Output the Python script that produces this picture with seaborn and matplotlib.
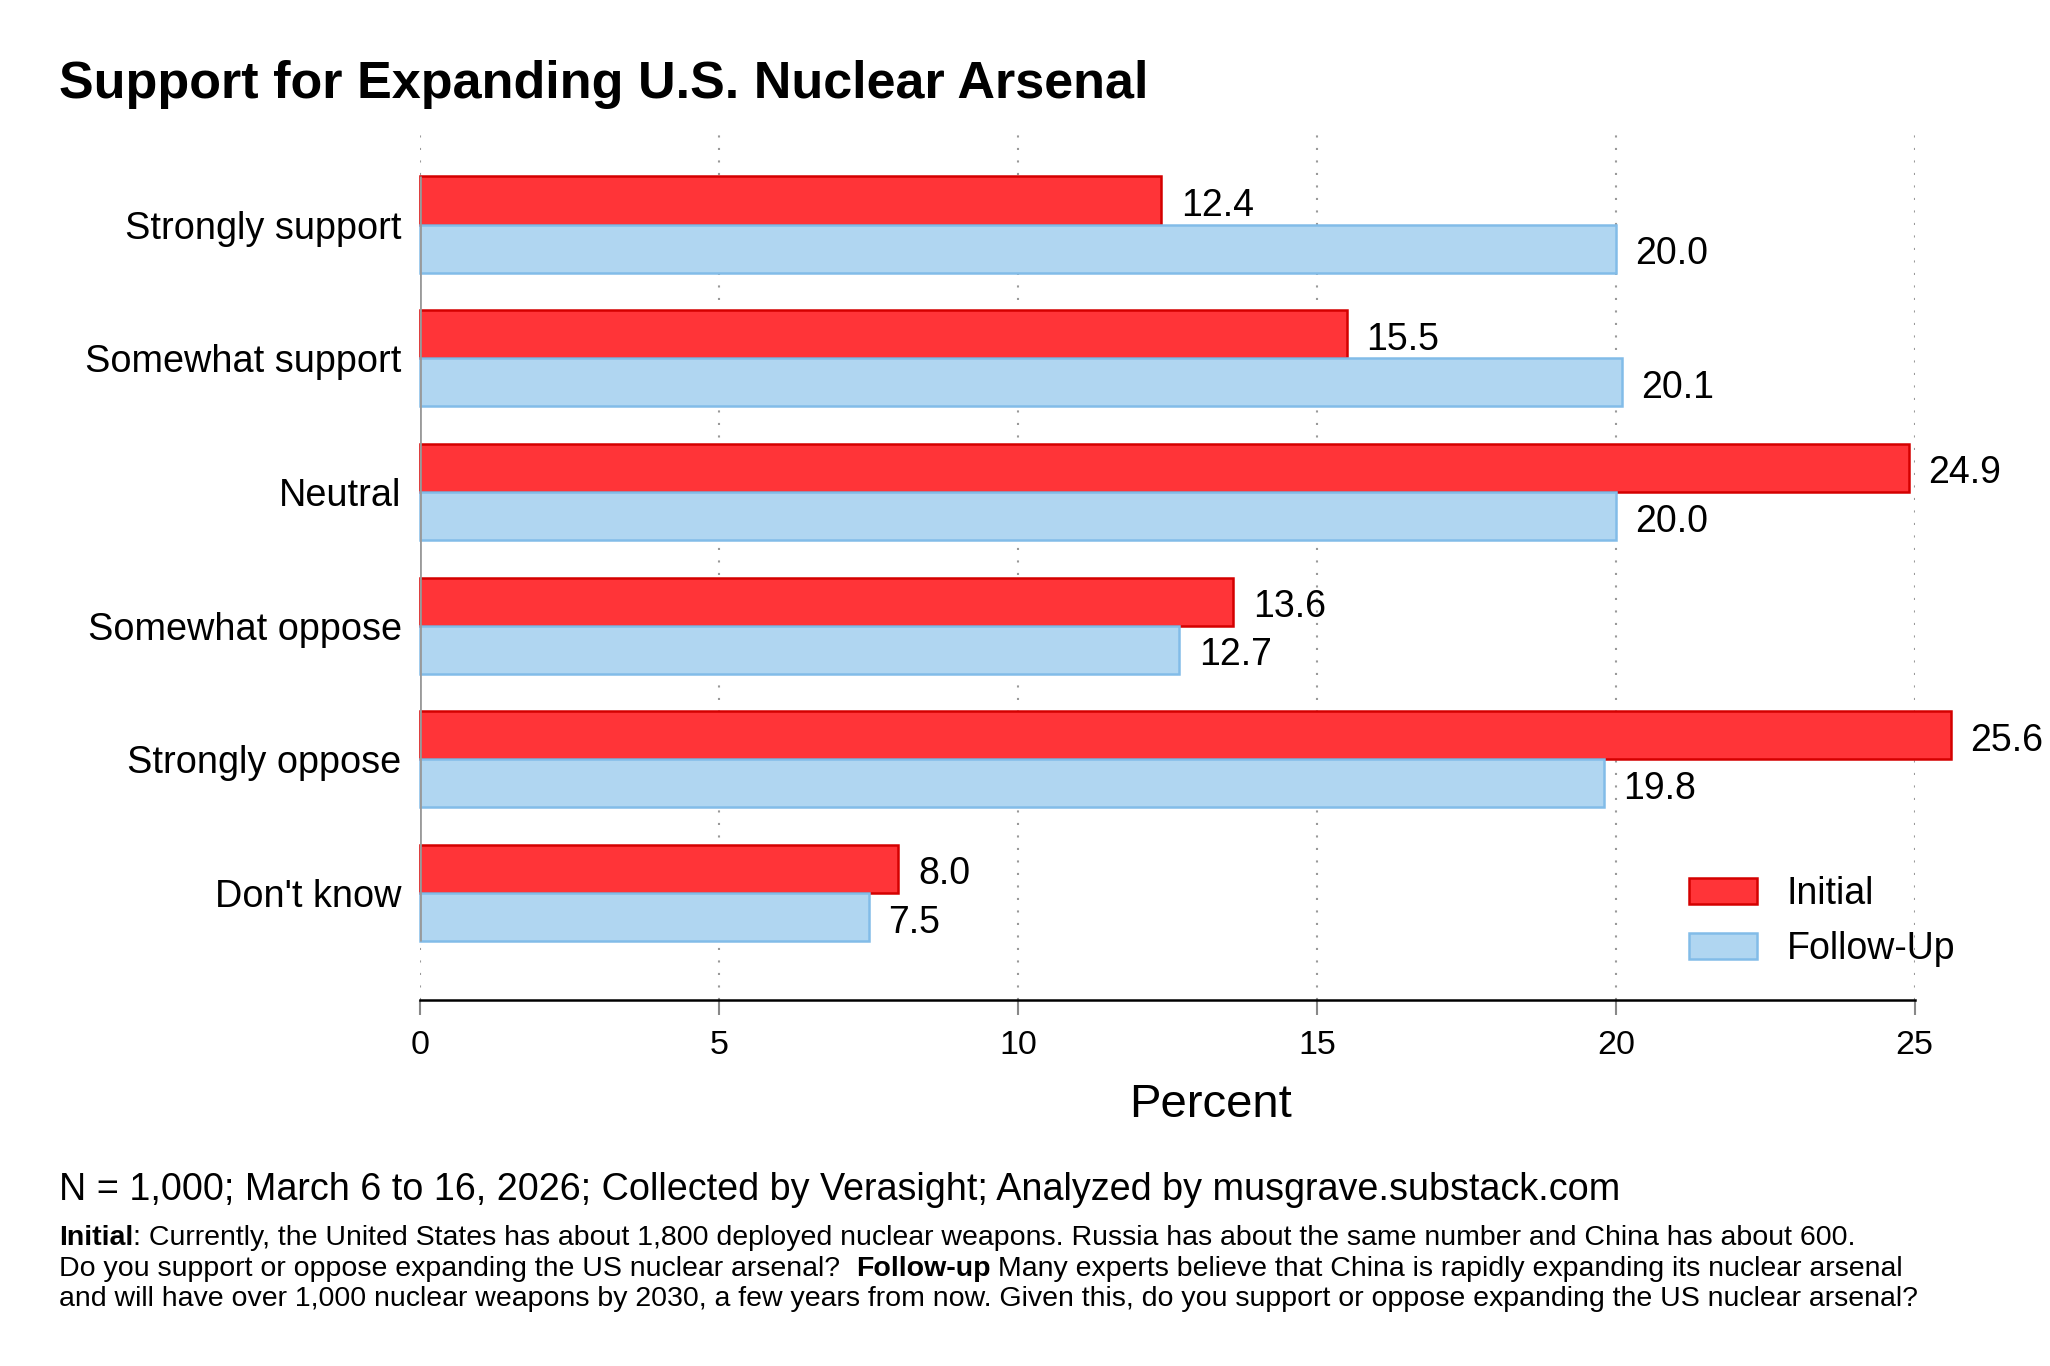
import matplotlib
matplotlib.use("Agg")
import matplotlib.pyplot as plt
import seaborn as sns
import pandas as pd
from matplotlib.patches import Patch

categories = ["Strongly support", "Somewhat support", "Neutral",
              "Somewhat oppose", "Strongly oppose", "Don't know"]
initial = [12.4, 15.5, 24.9, 13.6, 25.6, 8.0]
follow_up = [20.0, 20.1, 20.0, 12.7, 19.8, 7.5]
series_names = ["Initial", "Follow-Up"]
x_ticks = [0, 5, 10, 15, 20, 25]

title = "Support for Expanding U.S. Nuclear Arsenal"
x_label = "Percent"
source = "N = 1,000; March 6 to 16, 2026; Collected by Verasight; Analyzed by musgrave.substack.com"

fills = ["#ff3438", "#b0d6f1"]
edges = ["#d40000", "#82bce8"]

df = pd.DataFrame({
    "response": categories * 2,
    "percent": initial + follow_up,
    "wave": [series_names[0]] * len(categories) + [series_names[1]] * len(categories),
})

sns.set_style("white")
plt.rcParams["font.family"] = ["Liberation Sans", "DejaVu Sans"]
plt.rcParams["text.color"] = "black"
plt.rcParams["axes.labelcolor"] = "black"
plt.rcParams["xtick.color"] = "black"
plt.rcParams["ytick.color"] = "black"

fig = plt.figure(figsize=(20.5, 13.66), dpi=100)
ax = fig.add_axes([0.205, 0.268, 0.729, 0.639])

sns.barplot(data=df, y="response", x="percent", hue="wave", order=categories,
            hue_order=series_names, palette=fills, width=0.72, orient="h",
            saturation=1, ax=ax, legend=False, linewidth=1.6)

for cont, ec in zip(ax.containers, edges):
    for p in cont:
        p.set_edgecolor(ec)
        p.set_linewidth(1.8)
        p.set_clip_on(False)
    anns = ax.bar_label(cont, fmt="%.1f", padding=14, fontsize=27, color="black")
    for a in anns:
        a.xyann = (14, -4)
        a.set_annotation_clip(False)
        a.set_clip_on(False)

ax.set_xlim(0, 25)
ax.set_ylim(5.80, -0.73)
ax.set_xticks(x_ticks)
ax.set_xticklabels([str(t) for t in x_ticks])
ax.grid(axis="x", color="#999999", linestyle=(0, (1, 5)), linewidth=1.5)
ax.grid(axis="y", visible=False)
ax.set_axisbelow(True)

for s in ["top", "right", "left"]:
    ax.spines[s].set_visible(False)
ax.spines["bottom"].set_color("black")
ax.spines["bottom"].set_linewidth(1.8)
ax.vlines(0, -0.36, len(categories) - 1 + 0.36, color="#9a9a9a", linewidth=2, zorder=3)

ax.tick_params(axis="x", which="major", bottom=True, length=11, width=1.5,
               color="#888888", labelsize=24.5, pad=11, labelcolor="black")
ax.tick_params(axis="y", left=False, labelsize=27.3, pad=10, labelcolor="black")
ax.set_ylabel("")
ax.set_xlabel(x_label, fontsize=34, labelpad=20)
ax.xaxis.set_label_coords(0.529, -0.095)

handles = [Patch(facecolor=f, edgecolor=e, linewidth=1.8) for f, e in zip(fills, edges)]
ax.legend(handles, series_names, loc="upper left", bbox_to_anchor=(0.849, 0.142),
          frameon=False, fontsize=27, handlelength=1.8, handleheight=0.7,
          handletextpad=0.8, labelspacing=0.52, borderpad=0, borderaxespad=0)

fig.text(0.0288, 0.928, title, fontsize=37.5, fontweight="bold", va="baseline", ha="left")
fig.text(0.0288, 0.1215, source, fontsize=27.2, va="baseline", ha="left")

lines = [
    [("Initial", "bold"), (": Currently, the United States has about 1,800 deployed nuclear weapons. Russia has about the same number and China has about 600.", "normal")],
    [("Do you support or oppose expanding the US nuclear arsenal?  ", "normal"), ("Follow-up", "bold"), (" Many experts believe that China is rapidly expanding its nuclear arsenal", "normal")],
    [("and will have over 1,000 nuclear weapons by 2030, a few years from now. Given this, do you support or oppose expanding the US nuclear arsenal?", "normal")],
]
ys = [0.0845, 0.0615, 0.0395]
note_size = 20.5
for y, parts in zip(ys, lines):
    last = None
    for txt, wt in parts:
        if last is None:
            last = fig.text(0.0288, y, txt, fontsize=note_size, fontweight=wt,
                            va="bottom", ha="left")
        else:
            last = ax.annotate(txt, xy=(1, 0), xycoords=last, fontsize=note_size,
                               fontweight=wt, va="bottom", ha="left",
                               annotation_clip=False)

fig.savefig("out.png", dpi=100)
